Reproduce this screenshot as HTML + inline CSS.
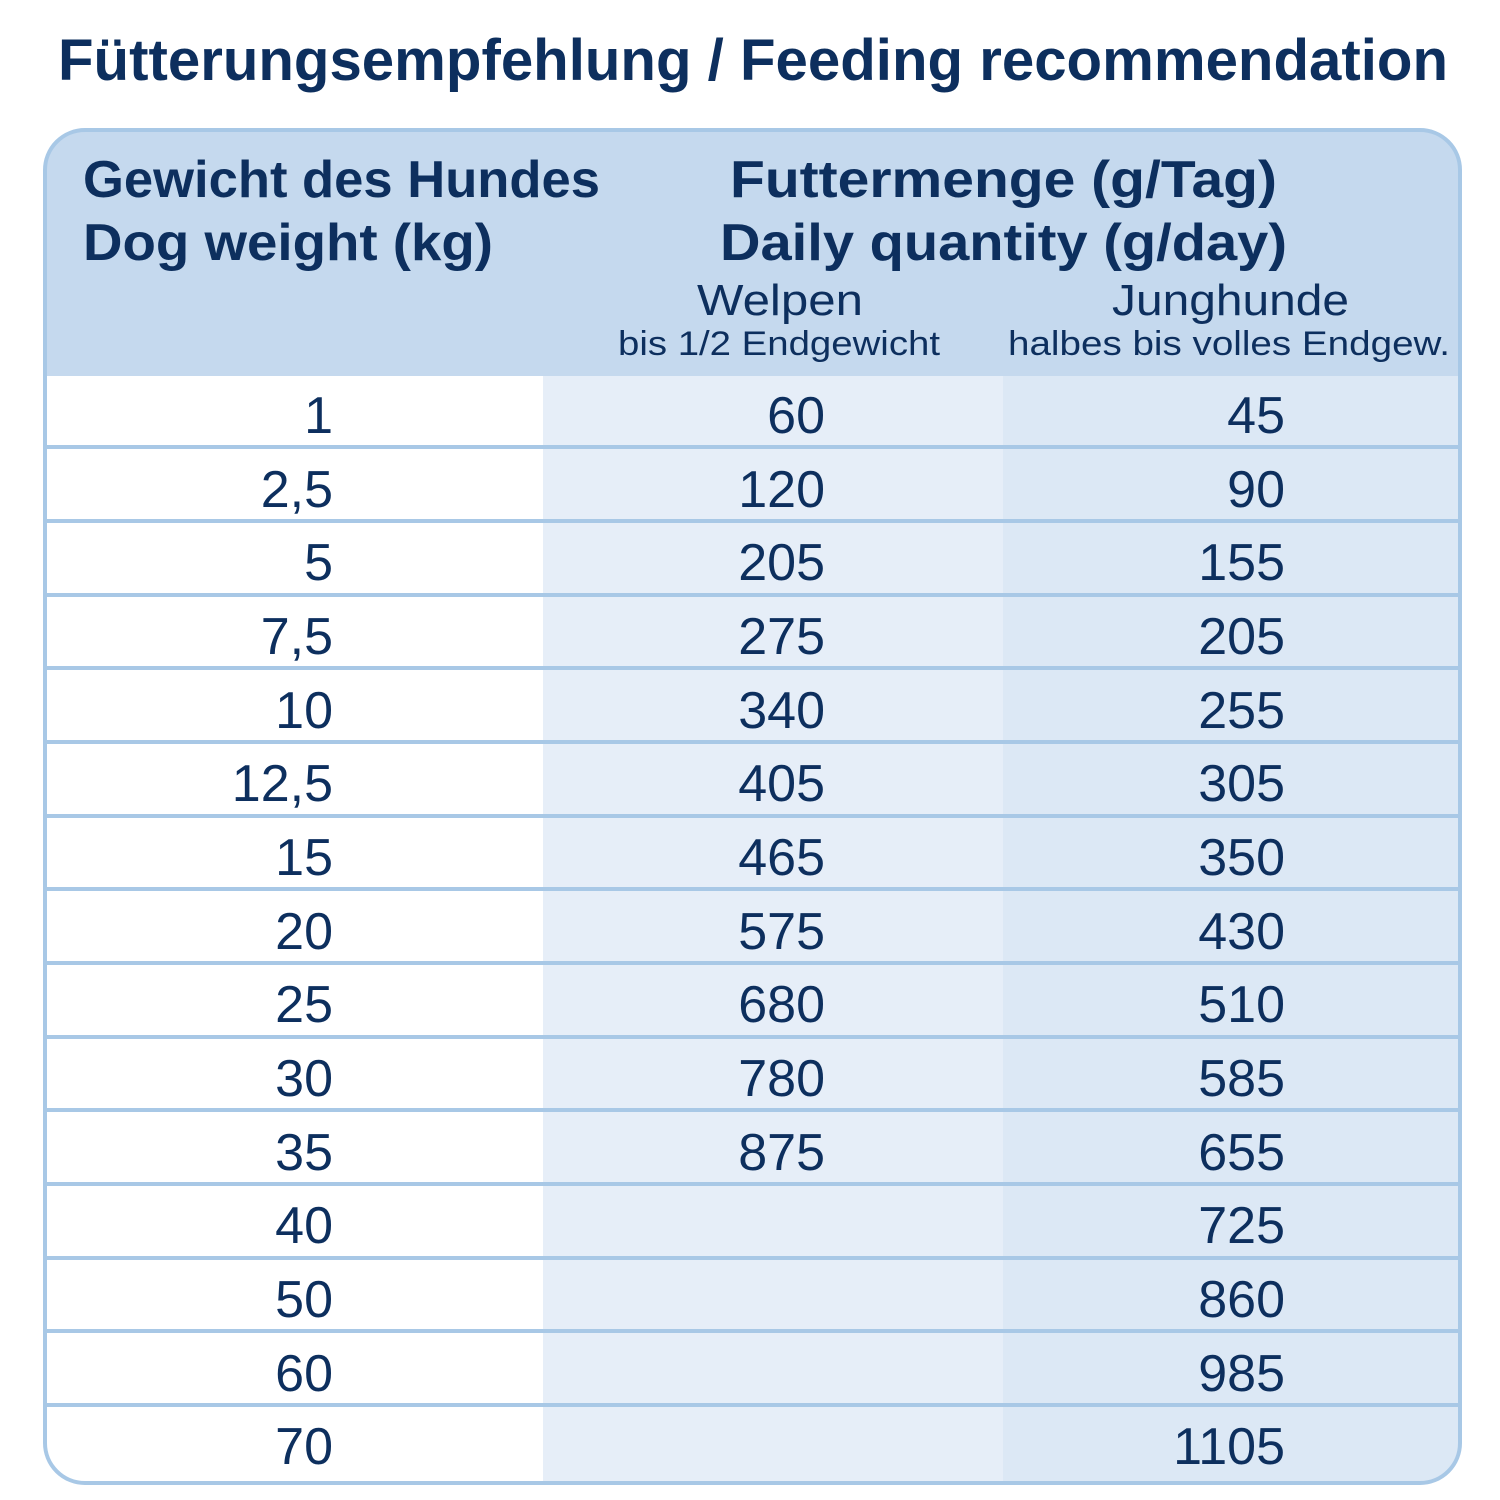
<!DOCTYPE html>
<html><head><meta charset="utf-8"><style>html,body{margin:0;padding:0;background:#fff}svg{display:block}</style></head>
<body>
<svg width="1500" height="1500" viewBox="0 0 1500 1500" xmlns="http://www.w3.org/2000/svg" font-family="Liberation Sans, sans-serif">
<defs><clipPath id="c"><rect x="45" y="130" width="1415" height="1353" rx="40"/></clipPath></defs>
<text x="58" y="80" font-size="58" font-weight="bold" fill="#0d2f5e" textLength="1390" lengthAdjust="spacingAndGlyphs">Fütterungsempfehlung / Feeding recommendation</text>
<g clip-path="url(#c)">
<rect x="45" y="130" width="1415" height="1353" fill="#c5d9ee"/>
<rect x="45" y="376" width="498" height="1110" fill="#ffffff"/>
<rect x="543" y="376" width="460" height="1110" fill="#e6eef8"/>
<rect x="1003" y="376" width="460" height="1110" fill="#dce8f5"/>
</g>
<rect x="45" y="130" width="1415" height="1353" rx="40" fill="none" stroke="#a8c8e6" stroke-width="4"/>
<g stroke="#a8c8e6" stroke-width="4">
<line x1="45" x2="1460" y1="447" y2="447"/><line x1="45" x2="1460" y1="521" y2="521"/><line x1="45" x2="1460" y1="595" y2="595"/><line x1="45" x2="1460" y1="668" y2="668"/><line x1="45" x2="1460" y1="742" y2="742"/><line x1="45" x2="1460" y1="816" y2="816"/><line x1="45" x2="1460" y1="889" y2="889"/><line x1="45" x2="1460" y1="963" y2="963"/><line x1="45" x2="1460" y1="1037" y2="1037"/><line x1="45" x2="1460" y1="1110" y2="1110"/><line x1="45" x2="1460" y1="1184" y2="1184"/><line x1="45" x2="1460" y1="1258" y2="1258"/><line x1="45" x2="1460" y1="1331" y2="1331"/><line x1="45" x2="1460" y1="1405" y2="1405"/>
</g>
<g fill="#0d2f5e">
<text x="83" y="197" font-size="52" font-weight="bold" textLength="517" lengthAdjust="spacingAndGlyphs">Gewicht des Hundes</text>
<text x="83" y="260" font-size="52" font-weight="bold" textLength="410" lengthAdjust="spacingAndGlyphs">Dog weight (kg)</text>
<text x="730" y="197" font-size="52" font-weight="bold" textLength="547" lengthAdjust="spacingAndGlyphs">Futtermenge (g/Tag)</text>
<text x="720" y="260" font-size="52" font-weight="bold" textLength="567" lengthAdjust="spacingAndGlyphs">Daily quantity (g/day)</text>
<text x="697" y="315" font-size="44" textLength="166" lengthAdjust="spacingAndGlyphs">Welpen</text>
<text x="618" y="355" font-size="34" textLength="322" lengthAdjust="spacingAndGlyphs">bis 1/2 Endgewicht</text>
<text x="1112" y="315" font-size="44" textLength="237" lengthAdjust="spacingAndGlyphs">Junghunde</text>
<text x="1008" y="355" font-size="34" textLength="442" lengthAdjust="spacingAndGlyphs">halbes bis volles Endgew.</text>
</g>
<g fill="#0d2f5e" font-size="52" text-anchor="end">
<text x="333" y="433">1</text><text x="825" y="433">60</text><text x="1285" y="433">45</text>
<text x="333" y="507">2,5</text><text x="825" y="507">120</text><text x="1285" y="507">90</text>
<text x="333" y="580">5</text><text x="825" y="580">205</text><text x="1285" y="580">155</text>
<text x="333" y="654">7,5</text><text x="825" y="654">275</text><text x="1285" y="654">205</text>
<text x="333" y="728">10</text><text x="825" y="728">340</text><text x="1285" y="728">255</text>
<text x="333" y="801">12,5</text><text x="825" y="801">405</text><text x="1285" y="801">305</text>
<text x="333" y="875">15</text><text x="825" y="875">465</text><text x="1285" y="875">350</text>
<text x="333" y="949">20</text><text x="825" y="949">575</text><text x="1285" y="949">430</text>
<text x="333" y="1022">25</text><text x="825" y="1022">680</text><text x="1285" y="1022">510</text>
<text x="333" y="1096">30</text><text x="825" y="1096">780</text><text x="1285" y="1096">585</text>
<text x="333" y="1170">35</text><text x="825" y="1170">875</text><text x="1285" y="1170">655</text>
<text x="333" y="1243">40</text><text x="1285" y="1243">725</text>
<text x="333" y="1317">50</text><text x="1285" y="1317">860</text>
<text x="333" y="1391">60</text><text x="1285" y="1391">985</text>
<text x="333" y="1464">70</text><text x="1285" y="1464">1105</text>
</g>
</svg>
</body></html>
